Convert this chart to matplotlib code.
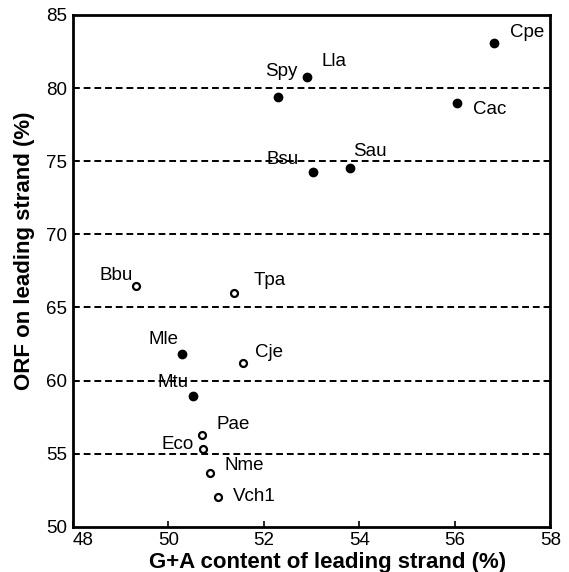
import numpy as np
import matplotlib
matplotlib.use('Agg')
import matplotlib.pyplot as plt

plt.rcParams['font.family'] = ['Liberation Sans', 'DejaVu Sans']

# species, G+A content (%), ORF on leading strand (%)
filled_names = ['Cpe', 'Cac', 'Lla', 'Spy', 'Bsu', 'Sau', 'Mle', 'Mtu']
filled_ga = [56.83, 56.05, 52.90, 52.30, 53.03, 53.81, 50.29, 50.52]
filled_orf = [83.1, 79.0, 80.76, 79.4, 74.27, 74.54, 61.83, 58.96]

open_names = ['Bbu', 'Tpa', 'Cje', 'Pae', 'Eco', 'Nme', 'Vch1']
open_ga = [49.32, 51.38, 51.56, 50.70, 50.73, 50.87, 51.04]
open_orf = [66.48, 66.0, 61.21, 56.29, 55.33, 53.69, 52.05]

x_ticks = [48, 50, 52, 54, 56, 58]
y_ticks = [50, 55, 60, 65, 70, 75, 80, 85]
grid_levels = [55, 60, 65, 70, 75, 80]

# label placement, pixel offsets from the point (dx, dy up), alignment
label_pos = {
    'Cpe': (16, 10, 'left'), 'Cac': (16, -7, 'left'), 'Lla': (15, 15, 'left'),
    'Spy': (-13, 25, 'left'), 'Bsu': (-14, 12, 'right'), 'Sau': (3, 16, 'left'),
    'Mle': (-4, 14, 'right'), 'Mtu': (-5, 13, 'right'), 'Bbu': (-3, 10, 'right'),
    'Tpa': (19, 12, 'left'), 'Cje': (12, 10, 'left'), 'Pae': (15, 10, 'left'),
    'Eco': (-9, 4, 'right'), 'Nme': (15, 7, 'left'), 'Vch1': (15, 0, 'left'),
}

fig = plt.figure(figsize=(5.69, 5.72), dpi=100)
ax = fig.add_axes([0.128, 0.079, 0.839, 0.895])

for lvl in grid_levels:
    ax.axhline(lvl, color='black', lw=1.4, ls=(0, (3.5, 2)), zorder=1)

ax.plot(filled_ga, filled_orf, 'o', color='black', ms=6, ls='none', zorder=3)
ax.plot(open_ga, open_orf, 'o', mfc='white', mec='black', mew=1.6, ms=5, ls='none', zorder=3)

px = 0.72
for names, xs, ys in [(filled_names, filled_ga, filled_orf), (open_names, open_ga, open_orf)]:
    for n, x, y in zip(names, xs, ys):
        dx, dy, ha = label_pos[n]
        ax.annotate(n, (x, y), xytext=(dx * px, dy * px), textcoords='offset points',
                    ha=ha, va='center', fontsize=13.5, zorder=4)

ax.set_xlim(48, 58)
ax.set_ylim(50, 85)
ax.set_xticks(x_ticks)
ax.set_yticks(y_ticks)
ax.tick_params(direction='in', length=4, width=1.2, labelsize=13.5)
ax.tick_params(axis='y', length=0, pad=4)
ax.get_xticklabels()[0].set_horizontalalignment('left')
for s in ax.spines.values():
    s.set_linewidth(2)

ax.set_xlabel('G+A content of leading strand (%)', fontsize=16, fontweight='bold')
ax.set_ylabel('ORF on leading strand (%)', fontsize=16, fontweight='bold')
ax.xaxis.set_label_coords(0.533, -0.05)
ax.yaxis.set_label_coords(-0.08, 0.54)

fig.savefig('out.png', dpi=100)
